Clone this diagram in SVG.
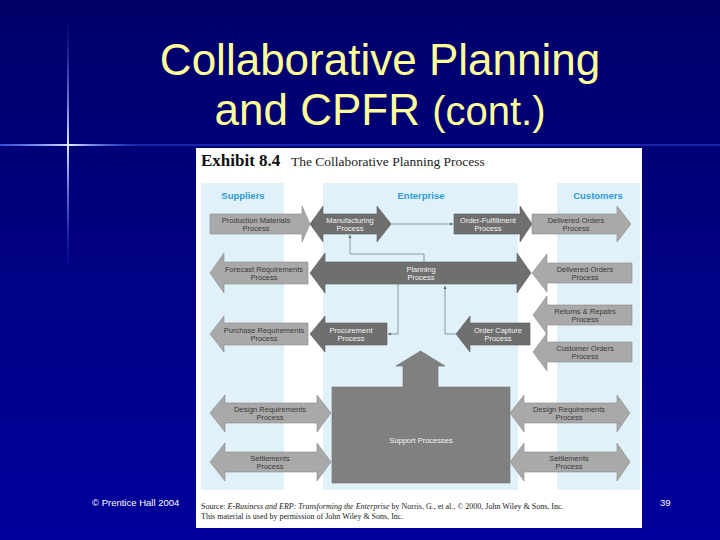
<svg xmlns="http://www.w3.org/2000/svg" width="720" height="540" viewBox="0 0 720 540">
<defs>
<linearGradient id="bg" x1="0" y1="0" x2="0" y2="1">
<stop offset="0" stop-color="#00006A"/>
<stop offset="1" stop-color="#00009C"/>
</linearGradient>
<linearGradient id="vline" x1="0" y1="0" x2="0" y2="1">
<stop offset="0" stop-color="#4060FF" stop-opacity="0"/>
<stop offset="0.5" stop-color="#E0E8FF" stop-opacity="1"/>
<stop offset="1" stop-color="#4060FF" stop-opacity="0"/>
</linearGradient>
<linearGradient id="hline" x1="0" y1="0" x2="1" y2="0">
<stop offset="0" stop-color="#5070FF" stop-opacity="0.5"/>
<stop offset="0.5" stop-color="#E0E8FF" stop-opacity="1"/>
<stop offset="1" stop-color="#4060FF" stop-opacity="0"/>
</linearGradient>
<marker id="ah" viewBox="0 0 6 6" refX="6" refY="3" markerWidth="4" markerHeight="4" orient="auto">
<path d="M0,0 L6,3 L0,6 Z" fill="#556677"/>
</marker>
<style>
.lt{fill:#A9A9A9;stroke:#8A8A8A;stroke-width:0.6}
.dk{fill:#6F6F6F;stroke:#5C5C5C;stroke-width:0.6}
.sp{fill:#808080;stroke:#6E6E6E;stroke-width:0.6}
.col{fill:#E1F1FA}
.hd{font-family:"Liberation Sans",Arial,sans-serif;font-weight:bold;font-size:9.5px;fill:#2E9BD6;text-anchor:middle}
.tl{font-family:"Liberation Sans",Arial,sans-serif;font-size:7.5px;fill:#3A3A3A;text-anchor:middle}
.td{font-family:"Liberation Sans",Arial,sans-serif;font-size:7.5px;fill:#F2F2F2;text-anchor:middle}
.cn{fill:none;stroke:#6F8596;stroke-width:0.8}
.ttl{font-family:"Liberation Sans",Arial,sans-serif;fill:#FFFF99;text-anchor:middle}
.src{font-family:"Liberation Serif","Times New Roman",serif;font-size:8px;fill:#222222}
</style>
</defs>

<!-- slide background -->
<rect x="0" y="0" width="720" height="540" fill="url(#bg)"/>
<rect x="0" y="144" width="720" height="2" fill="#2A3CD0" opacity="0.6"/>
<rect x="0" y="144" width="140" height="2" fill="url(#hline)"/>
<rect x="67" y="20" width="2" height="250" fill="url(#vline)"/>

<!-- slide title -->
<text class="ttl" x="380" y="75" font-size="44">Collaborative Planning</text>
<text class="ttl" x="380" y="125" font-size="44">and CPFR <tspan font-size="40">(cont.)</tspan></text>

<!-- footer -->
<text x="92" y="506" font-family="'Liberation Sans',Arial,sans-serif" font-size="9.5" fill="#FFFFFF">© Prentice Hall 2004</text>
<text x="660" y="506" font-family="'Liberation Sans',Arial,sans-serif" font-size="9.5" fill="#FFFFFF">39</text>

<!-- exhibit panel -->
<rect x="196" y="148" width="446" height="380" fill="#FFFFFF"/>
<text x="201" y="166" font-family="'Liberation Serif','Times New Roman',serif" font-size="17" font-weight="bold" fill="#111111">Exhibit 8.4</text>
<text x="291" y="166" font-family="'Liberation Serif','Times New Roman',serif" font-size="13.5" fill="#222222">The Collaborative Planning Process</text>

<rect class="col" x="201" y="183" width="83" height="307"/>
<rect class="col" x="323" y="183" width="195" height="307"/>
<rect class="col" x="557" y="183" width="83" height="307"/>
<text class="hd" x="243" y="199">Suppliers</text>
<text class="hd" x="421" y="199">Enterprise</text>
<text class="hd" x="598" y="199">Customers</text>

<!-- connectors -->
<g id="connectors">
<path class="cn" d="M391,224 H453" marker-end="url(#ah)"/>
<path class="cn" d="M424,262 V254 H350 V235" marker-end="url(#ah)"/>
<path class="cn" d="M398,284 V334 H388" marker-end="url(#ah)"/>
<path class="cn" d="M456,334 H445 V286" marker-end="url(#ah)"/>
</g>

<!-- row 1 -->
<g id="production-materials">
<path class="lt" d="M210,214 H302 V206 L310,224 L302,242 V234 H210 Z"/>
<text class="tl" x="256" y="222.5">Production Materials</text>
<text class="tl" x="256" y="231">Process</text>
</g>
<g id="manufacturing">
<path class="dk" d="M310,224 L323,206 V214 H377 V206 L391,224 L377,242 V234 H323 V242 Z"/>
<text class="td" x="350" y="222.5">Manufacturing</text>
<text class="td" x="350" y="231">Process</text>
</g>
<g id="order-fulfillment">
<path class="dk" d="M454,214 H520 V206 L532,224 L520,242 V234 H454 Z"/>
<text class="td" x="488" y="222.5">Order-Fulfillment</text>
<text class="td" x="488" y="231">Process</text>
</g>
<g id="delivered-orders-1">
<path class="lt" d="M532,214 H617 V206 L631,224 L617,242 V234 H532 Z"/>
<text class="tl" x="576" y="222.5">Delivered Orders</text>
<text class="tl" x="576" y="231">Process</text>
</g>

<!-- row 2 -->
<g id="forecast-requirements">
<path class="lt" d="M210,273 L224,253 V262 H308 V284 H224 V293 Z"/>
<text class="tl" x="264" y="271.5">Forecast Requirements</text>
<text class="tl" x="264" y="280">Process</text>
</g>
<g id="planning">
<path class="dk" d="M310,273 L325,253 V262 H517 V253 L531,273 L517,293 V284 H325 V293 Z"/>
<text class="td" x="421" y="271.5">Planning</text>
<text class="td" x="421" y="280">Process</text>
</g>
<g id="delivered-orders-2">
<path class="lt" d="M532,273 L547,254 V263 H632 V283 H547 V292 Z"/>
<text class="tl" x="585" y="271.5">Delivered Orders</text>
<text class="tl" x="585" y="280">Process</text>
</g>

<!-- row 3 -->
<g id="returns-repairs">
<path class="lt" d="M533,315 L547,296 V305 H632 V325 H547 V334 Z"/>
<text class="tl" x="585" y="313.5">Returns &amp; Repairs</text>
<text class="tl" x="585" y="322">Process</text>
</g>

<!-- row 4 -->
<g id="purchase-requirements">
<path class="lt" d="M210,334 L224,316 V323 H308 V345 H224 V352 Z"/>
<text class="tl" x="264" y="332.5">Purchase Requirements</text>
<text class="tl" x="264" y="341">Process</text>
</g>
<g id="procurement">
<path class="dk" d="M310,334 L325,316 V323 H387 V345 H325 V352 Z"/>
<text class="td" x="351" y="332.5">Procurement</text>
<text class="td" x="351" y="341">Process</text>
</g>
<g id="order-capture">
<path class="dk" d="M456,334 L470,316 V323 H530 V345 H470 V352 Z"/>
<text class="td" x="498" y="332.5">Order Capture</text>
<text class="td" x="498" y="341">Process</text>
</g>
<g id="customer-orders">
<path class="lt" d="M533,352 L547,333 V342 H632 V362 H547 V371 Z"/>
<text class="tl" x="585" y="350.5">Customer Orders</text>
<text class="tl" x="585" y="359">Process</text>
</g>

<!-- support -->
<g id="support-processes">
<path class="sp" d="M332,387 H403 V366 H396 L420.5,351 L445,366 H438 V387 H510 V483 H332 Z"/>
<text class="td" x="421" y="443">Support Processes</text>
</g>

<!-- rows 5/6 -->
<g id="design-requirements-left">
<path class="lt" d="M210,413 L225,395 V403 H317 V395 L331,413 L317,432 V423 H225 V432 Z"/>
<text class="tl" x="270" y="411.5">Design Requirements</text>
<text class="tl" x="270" y="420">Process</text>
</g>
<g id="settlements-left">
<path class="lt" d="M210,462 L225,443 V452 H317 V443 L331,462 L317,481 V472 H225 V481 Z"/>
<text class="tl" x="270" y="460.5">Settlements</text>
<text class="tl" x="270" y="469">Process</text>
</g>
<g id="design-requirements-right">
<path class="lt" d="M510,413 L524,395 V403 H617 V395 L630,413 L617,432 V423 H524 V432 Z"/>
<text class="tl" x="569" y="411.5">Design Requirements</text>
<text class="tl" x="569" y="420">Process</text>
</g>
<g id="settlements-right">
<path class="lt" d="M510,462 L524,443 V452 H617 V443 L630,462 L617,481 V472 H524 V481 Z"/>
<text class="tl" x="569" y="460.5">Settlements</text>
<text class="tl" x="569" y="469">Process</text>
</g>

<!-- source -->
<text class="src" x="201" y="509">Source: <tspan font-style="italic">E-Business and ERP: Transforming the Enterprise</tspan> by Norris, G., et al., © 2000, John Wiley &amp; Sons, Inc.</text>
<text class="src" x="201" y="519">This material is used by permission of John Wiley &amp; Sons, Inc.</text>
</svg>
